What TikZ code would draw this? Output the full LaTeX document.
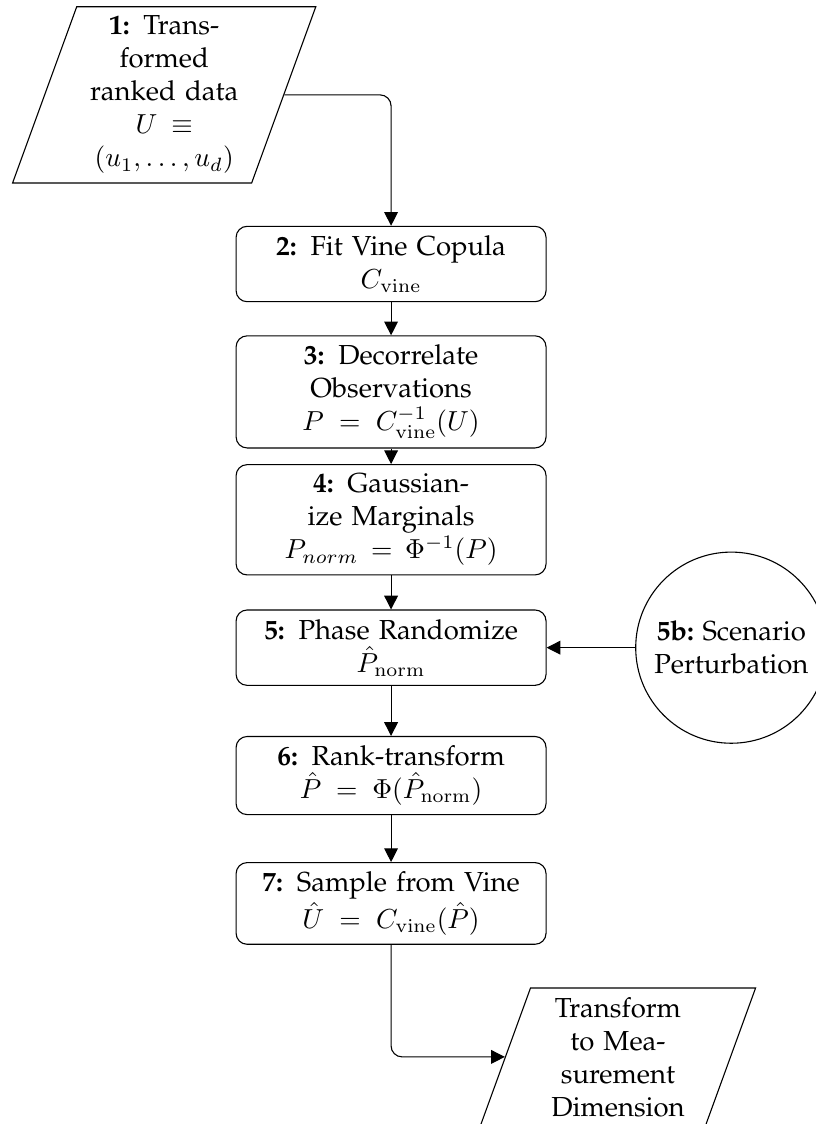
\documentclass[tikz,border=0pt]{standalone}
\usepackage[T1]{fontenc}
\usepackage{palatino}
\usetikzlibrary{shapes.geometric, arrows.meta, positioning}

\begin{document}
\begin{tikzpicture}[
  node distance=46.5pt,
  stepbox/.style={draw, rounded corners=4pt, minimum width=112.7pt, text width=104pt, align=center},
  io/.style={draw, trapezium, trapezium left angle=70, trapezium right angle=110,
             text width=55pt, inner xsep=4.3pt, align=center},
  scen/.style={draw, circle, minimum size=69.5pt, inner sep=1pt, align=center},
  arr/.style={-{Triangle[length=5pt, width=5pt]}},
  elbow/.style={arr, rounded corners=4pt}
]
\useasboundingbox (-142.2pt,96pt) rectangle (154.5pt,-312.7pt);

\node[stepbox] (fit) at (0,0) {\textbf{2:} Fit Vine Copula\\$C_{\mathrm{vine}}$};
\node[stepbox, below of=fit]    (decor)  {\textbf{3:} Decorrelate\\Observations\\$P = C^{-1}_{\mathrm{vine}}(U)$};
\node[stepbox, below of=decor]  (gauss)  {\textbf{4:} Gaussian-\\ize Marginals\\$P_{norm} = \Phi^{-1}(P)$};
\node[stepbox, below of=gauss]  (phase)  {\textbf{5:} Phase Randomize\\$\hat{P}_{\mathrm{norm}}$};
\node[stepbox, below of=phase]  (rank)   {\textbf{6:} Rank-transform\\$\hat{P} = \Phi(\hat{P}_{\mathrm{norm}})$};
\node[stepbox, below of=rank]   (sample) {\textbf{7:} Sample from Vine\\$\hat{U} = C_{\mathrm{vine}}(\hat{P})$};

\node[io] (data) at ([shift={(-82.5pt,61.5pt)}]fit.center) {\textbf{1:} Trans-\\formed\\ranked data\\$U \equiv$\\$(u_1,\ldots,u_d)$};
\node[scen, right=32.2pt of phase] (pert) {\textbf{5b:} Scenario\\Perturbation};
\node[io] (meas) at ([shift={(82.5pt,-55.8pt)}]sample.center) {Transform\\to Mea-\\surement\\Dimension};

\draw[elbow] (data.east) -| (fit.north);
\draw[arr] (fit) -- (decor);
\draw[arr] (decor) -- (gauss);
\draw[arr] (gauss) -- (phase);
\draw[arr] (phase) -- (rank);
\draw[arr] (rank) -- (sample);
\draw[arr] (pert) -- (phase);
\draw[elbow] (sample.south) |- (meas.west);
\end{tikzpicture}
\end{document}
